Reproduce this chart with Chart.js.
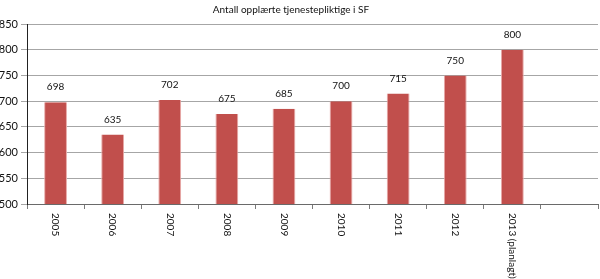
<!DOCTYPE html>
<html>
<head>
<meta charset="utf-8">
<script src="https://cdn.jsdelivr.net/npm/chart.js@4.4.1/dist/chart.umd.min.js"></script>
<style>
  html, body { margin:0; padding:0; background:#fff; }
  #wrap { position:relative; width:600px; height:279px; }
</style>
</head>
<body>
<div id="wrap"><canvas id="c"></canvas></div>
<script>
const TITLE = 'Antall opplærte tjenestepliktige i SF';
const YEARS = ['2005','2006','2007','2008','2009','2010','2011','2012','2013 (planlagt)',''];
const TRAINED = [698, 635, 702, 675, 685, 700, 715, 750, 800, null];
const Y_MIN = 500, Y_MAX = 850, Y_STEP = 50;

const FONT = 'Lato';

// titel + verdier over søylene + loddrette kategorinavn (lest ovenfra og ned)
const extras = {
  id: 'extras',
  afterDatasetsDraw(chart) {
    const { ctx, chartArea: a, scales: { x } } = chart;
    const meta = chart.getDatasetMeta(0);
    ctx.save();
    ctx.fillStyle = '#111';
    ctx.font = `10px ${FONT}`;
    ctx.textAlign = 'center';
    ctx.textBaseline = 'middle';
    ctx.fillText(TITLE, 291, 10);

    meta.data.forEach((bar, i) => {
      if (TRAINED[i] == null) return;
      ctx.fillText(String(TRAINED[i]), bar.x, bar.y - 15);
    });

    ctx.textAlign = 'left';
    YEARS.forEach((lbl, i) => {
      if (!lbl) return;
      ctx.save();
      ctx.translate(x.getPixelForValue(i), a.bottom + 9);
      ctx.rotate(Math.PI / 2);
      ctx.fillText(lbl, 0, 0);
      ctx.restore();
    });
    ctx.restore();
  }
};

new Chart(document.getElementById('c'), {
  type: 'bar',
  data: {
    labels: YEARS,
    datasets: [{
      data: TRAINED,
      backgroundColor: '#C14F4C',
      borderColor: '#E8A9A7',
      borderWidth: { left: 1, right: 1, top: 0, bottom: 0 },
      borderSkipped: false,
      categoryPercentage: 1,
      barPercentage: 0.4
    }]
  },
  options: {
    responsive: true,
    maintainAspectRatio: false,
    animation: false,
    layout: { padding: { top: 24, right: 2, left: 0, bottom: 0 } },
    plugins: { legend: { display: false }, tooltip: { enabled: false } },
    scales: {
      x: {
        grid: { offset: true, drawOnChartArea: false, drawTicks: true, tickLength: 5, color: '#7a7a7a' },
        border: { color: '#6a6a6a' },
        ticks: { display: false },
        afterFit: s => { s.height = 75; }
      },
      y: {
        min: Y_MIN, max: Y_MAX,
        grid: { color: '#a6a6a6', tickLength: 6 },
        border: { color: '#222' },
        ticks: { stepSize: Y_STEP, color: '#111', padding: 3, font: { size: 11, family: FONT } },
        afterFit: s => { s.width = 27; }
      }
    }
  },
  plugins: [extras]
});
</script>
</body>
</html>
